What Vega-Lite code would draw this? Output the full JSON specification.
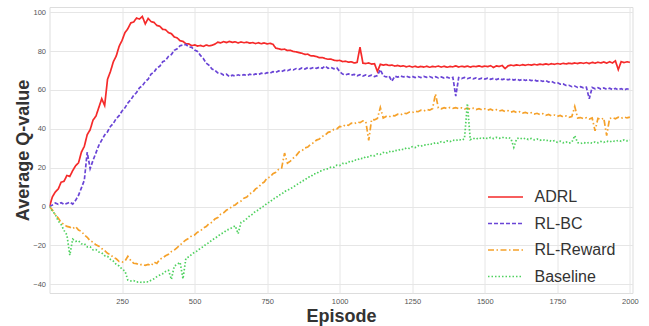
{
  "$schema": "https://vega.github.io/schema/vega-lite/v6.json",
  "autosize": {"type": "none"},
  "width": 583,
  "height": 286,
  "padding": {"left": 49.5, "top": 7, "right": 16.5, "bottom": 33},
  "background": "white",
  "config": {
    "view": {"stroke": "#dddddd", "strokeWidth": 1},
    "axis": {
      "domain": false, "ticks": false, "gridColor": "#e6e6e6", "gridWidth": 1,
      "labelFont": "Liberation Sans", "labelFontSize": 7.5, "labelColor": "#555555",
      "titleFont": "Liberation Sans", "titleFontWeight": "bold", "titleFontSize": 18, "titleColor": "#333333"
    },
    "legend": {"labelFont": "Liberation Sans", "labelFontSize": 16, "labelColor": "#333333"}
  },
  "data": {"values": [
{"e":0,"a":0,"b":0,"r":0,"g":0},
{"e":10,"a":5,"b":0.8,"r":-1.8,"g":-2.3},
{"e":20,"a":7.5,"b":1.8,"r":-4.2,"g":-4.1},
{"e":30,"a":9,"b":1.2,"r":-5.9,"g":-7.4},
{"e":40,"a":12.5,"b":2,"r":-8.1,"g":-9.2},
{"e":50,"a":13,"b":1.1,"r":-9.3,"g":-12.3},
{"e":60,"a":16,"b":1.6,"r":-10.2,"g":-14.6},
{"e":70,"a":15.5,"b":2.3,"r":-10.6,"g":-25},
{"e":80,"a":18.5,"b":1.3,"r":-11.4,"g":-16.8},
{"e":90,"a":21,"b":3.2,"r":-10.3,"g":-17.9},
{"e":100,"a":22.5,"b":5.8,"r":-12.1,"g":-17.6},
{"e":110,"a":28,"b":9.6,"r":-12.8,"g":-19.2},
{"e":120,"a":31,"b":13.5,"r":-14.6,"g":-19.1},
{"e":130,"a":37,"b":28,"r":-15.8,"g":-20.8},
{"e":140,"a":39.5,"b":19.5,"r":-17.6,"g":-20.7},
{"e":150,"a":44.5,"b":23.8,"r":-18.3,"g":-22.3},
{"e":160,"a":46.5,"b":27.6,"r":-19.7,"g":-22.2},
{"e":170,"a":51,"b":31.5,"r":-20.4,"g":-23.4},
{"e":180,"a":55.5,"b":34.2,"r":-21.6,"g":-23.8},
{"e":190,"a":52,"b":36.8,"r":-22.7,"g":-25.3},
{"e":200,"a":65.5,"b":38.5,"r":-24.1,"g":-25.6},
{"e":210,"a":69.5,"b":41.2,"r":-24.8,"g":-27.2},
{"e":220,"a":74.5,"b":42.8,"r":-26.2,"g":-28.1},
{"e":230,"a":77.5,"b":45.3,"r":-26.9,"g":-29.8},
{"e":240,"a":82.5,"b":46.8,"r":-28.3,"g":-30.6},
{"e":250,"a":85.5,"b":49.2,"r":-28.6,"g":-32.2},
{"e":260,"a":89.5,"b":50.8,"r":-28.1,"g":-33.2},
{"e":270,"a":91.5,"b":53.3,"r":-25.6,"g":-37.8},
{"e":280,"a":94.5,"b":54.9,"r":-27.8,"g":-38.3},
{"e":290,"a":95,"b":57.2,"r":-29.2,"g":-38.1},
{"e":300,"a":97,"b":58.7,"r":-29.4,"g":-38.9},
{"e":310,"a":96.5,"b":61.1,"r":-30.1,"g":-38.7},
{"e":320,"a":97.8,"b":62.2,"r":-29.7,"g":-39.3},
{"e":330,"a":94,"b":64.3,"r":-30.3,"g":-38.6},
{"e":340,"a":96.8,"b":65.6,"r":-29.8,"g":-38.8},
{"e":350,"a":95.2,"b":68.2,"r":-30.4,"g":-37.9},
{"e":360,"a":94.8,"b":69.1,"r":-28.6,"g":-37.2},
{"e":370,"a":93.2,"b":71.4,"r":-29.3,"g":-36.1},
{"e":380,"a":92.8,"b":72.2,"r":-27.2,"g":-35.3},
{"e":390,"a":91.2,"b":74.5,"r":-26.4,"g":-34.6},
{"e":400,"a":91,"b":75.2,"r":-25.3,"g":-33.4},
{"e":410,"a":89.5,"b":77.3,"r":-24.6,"g":-32.8},
{"e":420,"a":89,"b":78.2,"r":-23.2,"g":-37.5},
{"e":430,"a":87.3,"b":80.4,"r":-22.4,"g":-30.6},
{"e":440,"a":86.8,"b":81.2,"r":-21.1,"g":-29.8},
{"e":450,"a":85.3,"b":82.8,"r":-19.8,"g":-28.7},
{"e":460,"a":85,"b":83.1,"r":-18.4,"g":-37.2},
{"e":470,"a":83.8,"b":83.4,"r":-17.2,"g":-26.6},
{"e":480,"a":83.7,"b":82.2,"r":-16.3,"g":-25.9},
{"e":490,"a":82.8,"b":81.9,"r":-15.1,"g":-24.6},
{"e":500,"a":83.2,"b":80.6,"r":-14.6,"g":-23.5},
{"e":510,"a":82.6,"b":79.8,"r":-13.2,"g":-22.8},
{"e":520,"a":82.9,"b":77.8,"r":-12.6,"g":-21.4},
{"e":530,"a":82.4,"b":76.2,"r":-11.1,"g":-20.7},
{"e":540,"a":83.1,"b":73.8,"r":-10.3,"g":-19.3},
{"e":550,"a":82.7,"b":72.7,"r":-8.8,"g":-18.6},
{"e":560,"a":83,"b":70.8,"r":-8.1,"g":-17.2},
{"e":570,"a":83.6,"b":70.1,"r":-6.4,"g":-16.4},
{"e":580,"a":84.6,"b":68.8,"r":-5.7,"g":-15.3},
{"e":590,"a":84.2,"b":68.6,"r":-3.9,"g":-14.1},
{"e":600,"a":84.9,"b":67.7,"r":-3.2,"g":-13.5},
{"e":610,"a":84.4,"b":68.1,"r":-1.8,"g":-12.2},
{"e":620,"a":85,"b":66.9,"r":-1.2,"g":-11.6},
{"e":630,"a":84.5,"b":67.6,"r":0.3,"g":-10.8},
{"e":640,"a":84.8,"b":67.2,"r":0.8,"g":-9.9},
{"e":650,"a":84.2,"b":67.8,"r":2.1,"g":-14},
{"e":660,"a":84.7,"b":67.3,"r":2.8,"g":-8.1},
{"e":670,"a":84.3,"b":67.9,"r":4.3,"g":-7.4},
{"e":680,"a":84.6,"b":67.4,"r":4.9,"g":-6.2},
{"e":690,"a":84.1,"b":68.1,"r":6.6,"g":-4.8},
{"e":700,"a":84.4,"b":67.6,"r":7.2,"g":-3.9},
{"e":710,"a":83.9,"b":68.3,"r":9.1,"g":-2.4},
{"e":720,"a":84.3,"b":67.9,"r":9.9,"g":-1.8},
{"e":730,"a":83.8,"b":68.6,"r":11.7,"g":-0.3},
{"e":740,"a":84.2,"b":68.3,"r":12.6,"g":0.2},
{"e":750,"a":83.7,"b":68.9,"r":14.7,"g":1.8},
{"e":760,"a":84,"b":68.7,"r":15.1,"g":2.3},
{"e":770,"a":83.5,"b":69.4,"r":16.9,"g":3.9},
{"e":780,"a":81.5,"b":69.1,"r":17.6,"g":4.4},
{"e":790,"a":81.2,"b":69.8,"r":19.2,"g":5.9},
{"e":800,"a":80.8,"b":69.5,"r":19.8,"g":6.3},
{"e":810,"a":81,"b":70.2,"r":27.5,"g":7.8},
{"e":820,"a":80.3,"b":69.9,"r":22.3,"g":8.2},
{"e":830,"a":80.4,"b":70.6,"r":23.4,"g":9.3},
{"e":840,"a":79.8,"b":70.3,"r":24.9,"g":9.9},
{"e":850,"a":79.6,"b":71,"r":26.2,"g":11.2},
{"e":860,"a":79.2,"b":70.6,"r":28.1,"g":11.8},
{"e":870,"a":78.9,"b":71.3,"r":28.7,"g":13.1},
{"e":880,"a":78.3,"b":70.8,"r":30.2,"g":13.6},
{"e":890,"a":78.4,"b":71.5,"r":30.6,"g":15.1},
{"e":900,"a":77.6,"b":71,"r":32.1,"g":15.3},
{"e":910,"a":77.5,"b":71.6,"r":32.8,"g":16.8},
{"e":920,"a":77.2,"b":71.1,"r":34.2,"g":16.9},
{"e":930,"a":76.6,"b":71.7,"r":34.7,"g":18.2},
{"e":940,"a":76.7,"b":71.2,"r":36.1,"g":18.4},
{"e":950,"a":76.2,"b":72.3,"r":36.8,"g":19.3},
{"e":960,"a":75.8,"b":71.1,"r":38.2,"g":19.4},
{"e":970,"a":75.9,"b":71.6,"r":38.6,"g":20.3},
{"e":980,"a":75.3,"b":70.9,"r":39.7,"g":20.2},
{"e":990,"a":75.1,"b":71.4,"r":39.9,"g":21.3},
{"e":1000,"a":75.2,"b":69.5,"r":41.2,"g":21.1},
{"e":1010,"a":74.6,"b":68.2,"r":41,"g":22.2},
{"e":1020,"a":74.8,"b":67.8,"r":42.2,"g":22},
{"e":1030,"a":74.3,"b":68.3,"r":41.8,"g":23.1},
{"e":1040,"a":74.5,"b":67.6,"r":42.9,"g":22.9},
{"e":1050,"a":73.9,"b":68,"r":42.6,"g":24},
{"e":1060,"a":74.2,"b":67.3,"r":43.5,"g":23.8},
{"e":1070,"a":82,"b":67.9,"r":43.2,"g":24.9},
{"e":1080,"a":73.8,"b":67.2,"r":44.1,"g":24.6},
{"e":1090,"a":73.6,"b":67.7,"r":43.8,"g":25.7},
{"e":1100,"a":73.9,"b":67.1,"r":34,"g":25.4},
{"e":1110,"a":73.3,"b":67.6,"r":44.8,"g":26.4},
{"e":1120,"a":73.5,"b":66.9,"r":44.6,"g":26.1},
{"e":1130,"a":69.5,"b":67.4,"r":45.3,"g":27.1},
{"e":1140,"a":73.2,"b":70.5,"r":51,"g":26.8},
{"e":1150,"a":72.8,"b":67.3,"r":45.6,"g":27.8},
{"e":1160,"a":73.1,"b":66.7,"r":46.4,"g":27.4},
{"e":1170,"a":72.6,"b":67.2,"r":46.1,"g":28.4},
{"e":1180,"a":72.8,"b":64.5,"r":46.9,"g":28},
{"e":1190,"a":72.3,"b":67.1,"r":46.7,"g":29},
{"e":1200,"a":72.6,"b":66.6,"r":47.5,"g":28.7},
{"e":1210,"a":72.2,"b":67.2,"r":47.2,"g":29.6},
{"e":1220,"a":72.4,"b":66.7,"r":48.1,"g":29.3},
{"e":1230,"a":71.9,"b":67.1,"r":47.8,"g":30.2},
{"e":1240,"a":72.3,"b":66.5,"r":48.6,"g":29.9},
{"e":1250,"a":71.8,"b":67,"r":48.3,"g":30.8},
{"e":1260,"a":72.2,"b":66.4,"r":49.1,"g":30.4},
{"e":1270,"a":71.7,"b":66.9,"r":48.8,"g":31.3},
{"e":1280,"a":72.1,"b":66.4,"r":49.6,"g":31},
{"e":1290,"a":71.8,"b":67,"r":49.2,"g":31.8},
{"e":1300,"a":72.2,"b":66.5,"r":50,"g":31.5},
{"e":1310,"a":71.7,"b":66.9,"r":49.6,"g":32.4},
{"e":1320,"a":72.1,"b":66.3,"r":50.4,"g":32},
{"e":1330,"a":71.9,"b":66.8,"r":58,"g":32.9},
{"e":1340,"a":72.3,"b":66.2,"r":50.7,"g":32.5},
{"e":1350,"a":71.8,"b":66.7,"r":50.3,"g":33.4},
{"e":1360,"a":72.2,"b":66.1,"r":50.9,"g":33},
{"e":1370,"a":71.7,"b":66.6,"r":50.4,"g":33.8},
{"e":1380,"a":72.1,"b":66,"r":51,"g":33.4},
{"e":1390,"a":71.9,"b":66.5,"r":50.5,"g":34.2},
{"e":1400,"a":72.4,"b":56.8,"r":50.9,"g":33.8},
{"e":1410,"a":71.8,"b":66.4,"r":50.4,"g":34.6},
{"e":1420,"a":72.2,"b":65.9,"r":50.8,"g":34.1},
{"e":1430,"a":71.9,"b":66.4,"r":50.2,"g":34.9},
{"e":1440,"a":72.3,"b":65.8,"r":50.7,"g":53},
{"e":1450,"a":71.8,"b":66.3,"r":50.1,"g":34.4},
{"e":1460,"a":72.2,"b":65.7,"r":50.6,"g":35.2},
{"e":1470,"a":72,"b":66.2,"r":49.9,"g":34.6},
{"e":1480,"a":72.4,"b":65.6,"r":50.4,"g":35.4},
{"e":1490,"a":71.9,"b":66.1,"r":49.8,"g":34.8},
{"e":1500,"a":72.3,"b":65.6,"r":50.3,"g":35.5},
{"e":1510,"a":72,"b":66.1,"r":49.6,"g":34.9},
{"e":1520,"a":72.5,"b":65.5,"r":50.1,"g":35.6},
{"e":1530,"a":71.6,"b":66,"r":49.4,"g":35},
{"e":1540,"a":72.4,"b":65.4,"r":49.9,"g":35.6},
{"e":1550,"a":72.1,"b":65.9,"r":49.2,"g":35.1},
{"e":1560,"a":72.6,"b":65.3,"r":49.6,"g":35.7},
{"e":1570,"a":71,"b":65.8,"r":48.9,"g":35.1},
{"e":1580,"a":72.4,"b":65.2,"r":49.3,"g":35.6},
{"e":1590,"a":72.8,"b":65.7,"r":48.6,"g":35},
{"e":1600,"a":72.5,"b":65.1,"r":49.1,"g":30.5},
{"e":1610,"a":72.9,"b":65.6,"r":48.3,"g":34.9},
{"e":1620,"a":72.6,"b":65,"r":48.8,"g":35.4},
{"e":1630,"a":73,"b":65.5,"r":48.1,"g":34.7},
{"e":1640,"a":72.7,"b":64.9,"r":48.5,"g":35.2},
{"e":1650,"a":73.1,"b":65.4,"r":47.8,"g":34.5},
{"e":1660,"a":72.8,"b":64.8,"r":48.3,"g":35},
{"e":1670,"a":73.2,"b":65.2,"r":47.6,"g":34.3},
{"e":1680,"a":72.9,"b":64.6,"r":48,"g":34.8},
{"e":1690,"a":73.3,"b":65,"r":47.3,"g":34.1},
{"e":1700,"a":73,"b":64.4,"r":47.8,"g":34.5},
{"e":1710,"a":73.4,"b":64.8,"r":47,"g":33.8},
{"e":1720,"a":73.1,"b":64.1,"r":47.4,"g":34.2},
{"e":1730,"a":73.5,"b":64.4,"r":46.7,"g":33.5},
{"e":1740,"a":73.2,"b":63.6,"r":47.1,"g":33.9},
{"e":1750,"a":73.6,"b":63.8,"r":46.4,"g":33.1},
{"e":1760,"a":73.3,"b":63,"r":46.9,"g":33.6},
{"e":1770,"a":73.7,"b":63.1,"r":46.1,"g":32.8},
{"e":1780,"a":73.4,"b":62.3,"r":46.6,"g":33.3},
{"e":1790,"a":73.8,"b":62.4,"r":45.9,"g":32.6},
{"e":1800,"a":73.5,"b":61.7,"r":46.3,"g":33.1},
{"e":1810,"a":73.9,"b":62,"r":51.5,"g":36.5},
{"e":1820,"a":73.6,"b":61.3,"r":45.6,"g":32.9},
{"e":1830,"a":74,"b":61.7,"r":45.8,"g":32.4},
{"e":1840,"a":73.7,"b":61.1,"r":45.2,"g":33},
{"e":1850,"a":74.1,"b":61.4,"r":45.7,"g":32.5},
{"e":1860,"a":73.6,"b":55.5,"r":45,"g":33.1},
{"e":1870,"a":74.2,"b":61.3,"r":45.6,"g":32.6},
{"e":1880,"a":73.8,"b":60.6,"r":39,"g":33.3},
{"e":1890,"a":74.3,"b":61.2,"r":45.4,"g":32.8},
{"e":1900,"a":73.9,"b":60.5,"r":44.8,"g":33.5},
{"e":1910,"a":74.4,"b":61,"r":45.5,"g":33},
{"e":1920,"a":73.8,"b":60.3,"r":36.5,"g":33.7},
{"e":1930,"a":74.5,"b":60.9,"r":45.3,"g":33.2},
{"e":1940,"a":73.9,"b":60.2,"r":45.8,"g":33.9},
{"e":1950,"a":75,"b":60.8,"r":45.2,"g":33.4},
{"e":1960,"a":70.5,"b":60.1,"r":46,"g":34.1},
{"e":1970,"a":74.6,"b":60.7,"r":45.4,"g":33.6},
{"e":1980,"a":74.1,"b":60,"r":46.1,"g":34.3},
{"e":1990,"a":74.5,"b":60.6,"r":45.6,"g":33.8},
{"e":2000,"a":74.2,"b":60.2,"r":46,"g":34.2}
  ]},
  "transform": [{"fold": ["a", "b", "r", "g"], "as": ["s", "q"]}],
  "mark": {"type": "line", "strokeWidth": 1.7, "clip": true},
  "encoding": {
    "x": {
      "field": "e", "type": "quantitative",
      "scale": {"domain": [0, 2009], "nice": false, "zero": false},
      "axis": {"values": [250, 500, 750, 1000, 1250, 1500, 1750, 2000], "format": "d", "title": "Episode", "labelPadding": 4, "titleY": 28, "titleBaseline": "alphabetic"}
    },
    "y": {
      "field": "q", "type": "quantitative",
      "scale": {"domain": [-44.5, 102.7], "nice": false, "zero": false},
      "axis": {"values": [-40, -20, 0, 20, 40, 60, 80, 100], "format": "d", "title": "Average Q-value", "labelPadding": 4, "titleX": -26, "titleBaseline": "middle"}
    },
    "color": {
      "field": "s", "type": "nominal",
      "scale": {"domain": ["a", "b", "r", "g"], "range": ["#f52a2a", "#6a45d6", "#f5a12a", "#4fd15f"]},
      "legend": {
        "title": null, "orient": "none", "legendX": 448, "legendY": 182, "padding": 0,
        "symbolType": "M-2.5,0H2.5", "symbolSize": 196, "symbolStrokeWidth": 1.6,
        "labelOffset": 21, "rowPadding": 10.5,
        "labelExpr": "{'a':'ADRL','b':'RL-BC','r':'RL-Reward','g':'Baseline'}[datum.label]"
      }
    },
    "strokeDash": {
      "field": "s", "type": "nominal",
      "scale": {"domain": ["a", "b", "r", "g"], "range": [[1, 0], [4, 2], [6, 2.5, 1.5, 2.5], [1.5, 2]]},
      "legend": {
        "title": null, "orient": "none", "legendX": 448, "legendY": 182, "padding": 0,
        "symbolType": "M-2.5,0H2.5", "symbolSize": 196, "symbolStrokeWidth": 1.6,
        "labelOffset": 21, "rowPadding": 10.5,
        "labelExpr": "{'a':'ADRL','b':'RL-BC','r':'RL-Reward','g':'Baseline'}[datum.label]"
      }
    }
  }
}
